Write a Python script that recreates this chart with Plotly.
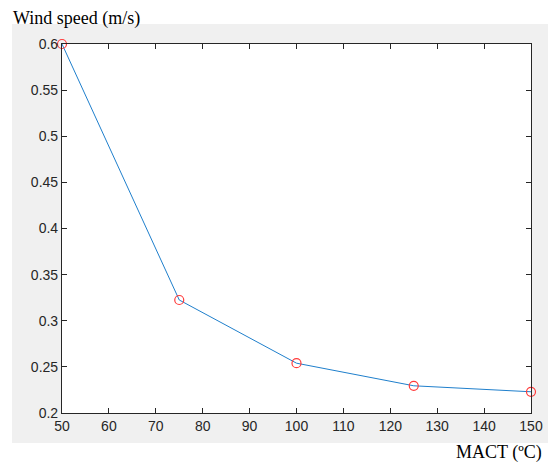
import plotly.graph_objects as go

mact = [50, 75, 100, 125, 150]
wind_speed = [0.600, 0.3225, 0.254, 0.2295, 0.223]

x_ticks = [50, 60, 70, 80, 90, 100, 110, 120, 130, 140, 150]
y_ticks = [0.2, 0.25, 0.3, 0.35, 0.4, 0.45, 0.5, 0.55, 0.6]
y_labels = ["0.2", "0.25", "0.3", "0.35", "0.4", "0.45", "0.5", "0.55", "0.6"]

W, H = 548, 464
PL, PR, PT, PB = 62, 531, 44, 413  # plot area in window pixels
L, R, T, B = PL, W - PR, PT, H - PB
pw, ph = PR - PL, PB - PT

def px2paper_x(p):
    return (p - PL) / pw

def px2paper_y(p):
    return (PB - p) / ph

fig = go.Figure()
fig.add_trace(go.Scatter(
    x=mact, y=wind_speed, mode="lines+markers",
    line=dict(color="#1f7fcc", width=1),
    marker=dict(symbol="circle-open", size=9, color="#ff3b3b", line=dict(width=1.2, color="#ff3b3b")),
    cliponaxis=False, showlegend=False, hoverinfo="skip",
))

axis_common = dict(
    showline=True, mirror="ticks", linecolor="#262626", linewidth=1.2,
    ticks="inside", ticklen=5, tickcolor="#262626", tickwidth=1,
    showgrid=False, zeroline=False, automargin=False, ticklabeloverflow="allow",
    tickfont=dict(family="Liberation Sans, Arial, sans-serif", size=14, color="#262626"),
)

fig.update_layout(
    width=W, height=H,
    margin=dict(l=L, r=R, t=T, b=B, autoexpand=False),
    paper_bgcolor="white", plot_bgcolor="white",
    hovermode=False,
    xaxis=dict(range=[50, 150], tickvals=x_ticks, ticktext=[str(v) for v in x_ticks], **axis_common),
    yaxis=dict(range=[0.2, 0.6], tickvals=y_ticks, ticktext=y_labels, **axis_common),
    shapes=[
        dict(type="rect", xref="paper", yref="paper", layer="below",
             x0=px2paper_x(12), x1=px2paper_x(560), y0=px2paper_y(443), y1=px2paper_y(24),
             fillcolor="#f0f0f0", line=dict(width=0)),
        dict(type="rect", xref="paper", yref="paper", layer="below",
             x0=0, x1=1, y0=0, y1=1,
             fillcolor="white", line=dict(width=0)),
    ],
    annotations=[
        dict(text="Wind speed (m/s)", xref="paper", yref="paper",
             x=px2paper_x(11), y=px2paper_y(18), xanchor="left", yanchor="middle",
             showarrow=False, font=dict(family="Liberation Serif, Times New Roman, serif", size=18, color="black")),
        dict(text="MACT (ºC)", xref="paper", yref="paper",
             x=px2paper_x(544), y=px2paper_y(452), xanchor="right", yanchor="middle",
             showarrow=False, font=dict(family="Liberation Serif, Times New Roman, serif", size=18, color="black")),
    ],
)

fig.write_html("out.html", config={"displayModeBar": False},
               post_script="document.body.style.margin='0';")
